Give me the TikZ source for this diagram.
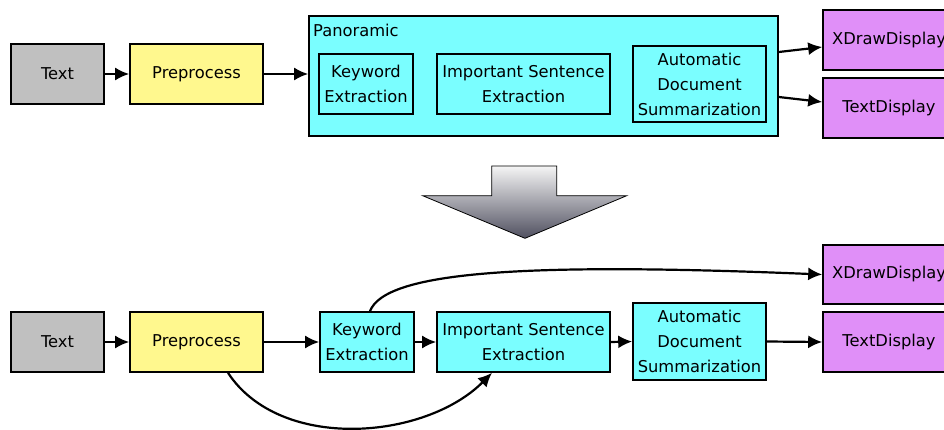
\documentclass[tikz,border=0pt]{standalone}
\usepackage{fontspec}
\setmainfont{DejaVu Sans}
\usetikzlibrary{arrows.meta}
\definecolor{cgray}{HTML}{C0C0C0}
\definecolor{cyellow}{HTML}{FFF88E}
\definecolor{ccyan}{HTML}{7AFEFF}
\definecolor{cpurple}{HTML}{E08FF8}
\definecolor{cdark}{RGB}{80,80,96}
\begin{document}
\begin{tikzpicture}[x=1pt,y=-1pt,
  box/.style={draw=black, line width=1.6pt, align=center, inner sep=0pt,
    font=\fontsize{16.3}{25}\selectfont},
  wh/.style 2 args={minimum width=#1pt, minimum height=#2pt},
  conn/.style={line width=2.2pt, -{Latex[length=14pt,width=13pt]}},
  bigarrow/.style={draw=black, line width=0.8pt, top color=white!96!black, bottom color=cdark}]
\useasboundingbox (0,0) rectangle (944,430);

% ---------- top row ----------
\node[box, wh={93}{60}, fill=cgray] (t1) at (57.5,74) {Text};
\node[box, wh={133}{60}, fill=cyellow] (p1) at (196.5,74) {Preprocess};
\node[box, wh={469}{120}, fill=ccyan] (pan) at (543.5,76) {};
\node[anchor=west, inner sep=0pt, font=\fontsize{16.3}{25}\selectfont] (panlbl) at (313,30) {Panoramic};
\node[box, wh={94}{60}] (k1) at (366,84) {Keyword\\Extraction};
\node[box, wh={173}{60}] (i1) at (523.5,84) {Important Sentence\\Extraction};
\node[box, wh={133}{76}] (a1) at (699.5,84) {Automatic\\Document\\Summarization};
\node[box, wh={132}{60}, fill=cpurple] (x1) at (889,40) {XDrawDisplay};
\node[box, wh={132}{60}, fill=cpurple] (tx1) at (889,108) {TextDisplay};

\draw[conn] (t1.east) -- (p1.west);
\draw[conn] (p1.east) -- (p1.east -| pan.west);
\draw[conn] ([yshift=24pt]pan.east) -- ([yshift=-7pt]x1.west);
\draw[conn] ([yshift=-21pt]pan.east) -- ([yshift=6pt]tx1.west);

% ---------- big down arrow ----------
\path[bigarrow] (491.7,166) -- (556.7,166) -- (556.7,195.7) -- (626.7,195.7)
  -- (525,238.3) -- (422.7,195.7) -- (491.7,195.7) -- cycle;

% ---------- bottom row ----------
\node[box, wh={93}{60}, fill=cgray] (t2) at (57.5,342) {Text};
\node[box, wh={133}{60}, fill=cyellow] (p2) at (196.5,342) {Preprocess};
\node[box, wh={94}{60}, fill=ccyan] (k2) at (367,342) {Keyword\\Extraction};
\node[box, wh={173}{60}, fill=ccyan] (i2) at (523.5,342) {Important Sentence\\Extraction};
\node[box, wh={133}{77}, fill=ccyan] (a2) at (699.5,341.5) {Automatic\\Document\\Summarization};
\node[box, wh={132}{59}, fill=cpurple] (x2) at (889,274.5) {XDrawDisplay};
\node[box, wh={132}{60}, fill=cpurple] (tx2) at (889,342) {TextDisplay};

\draw[conn] (t2.east) -- (p2.west);
\draw[conn] (p2.east) -- (k2.west);
\draw[conn] (k2.east) -- (i2.west);
\draw[conn] (i2.east) -- (a2.west);
\draw[conn] (a2.east) -- (tx2.west);
\draw[conn] ([xshift=3pt]k2.north) .. controls (385,272) and (520,262) .. (x2.west);
\draw[conn] ([xshift=31.5pt]p2.south) .. controls (280,452) and (425,440) .. ([xshift=-31.5pt]i2.south);
\end{tikzpicture}
\end{document}
